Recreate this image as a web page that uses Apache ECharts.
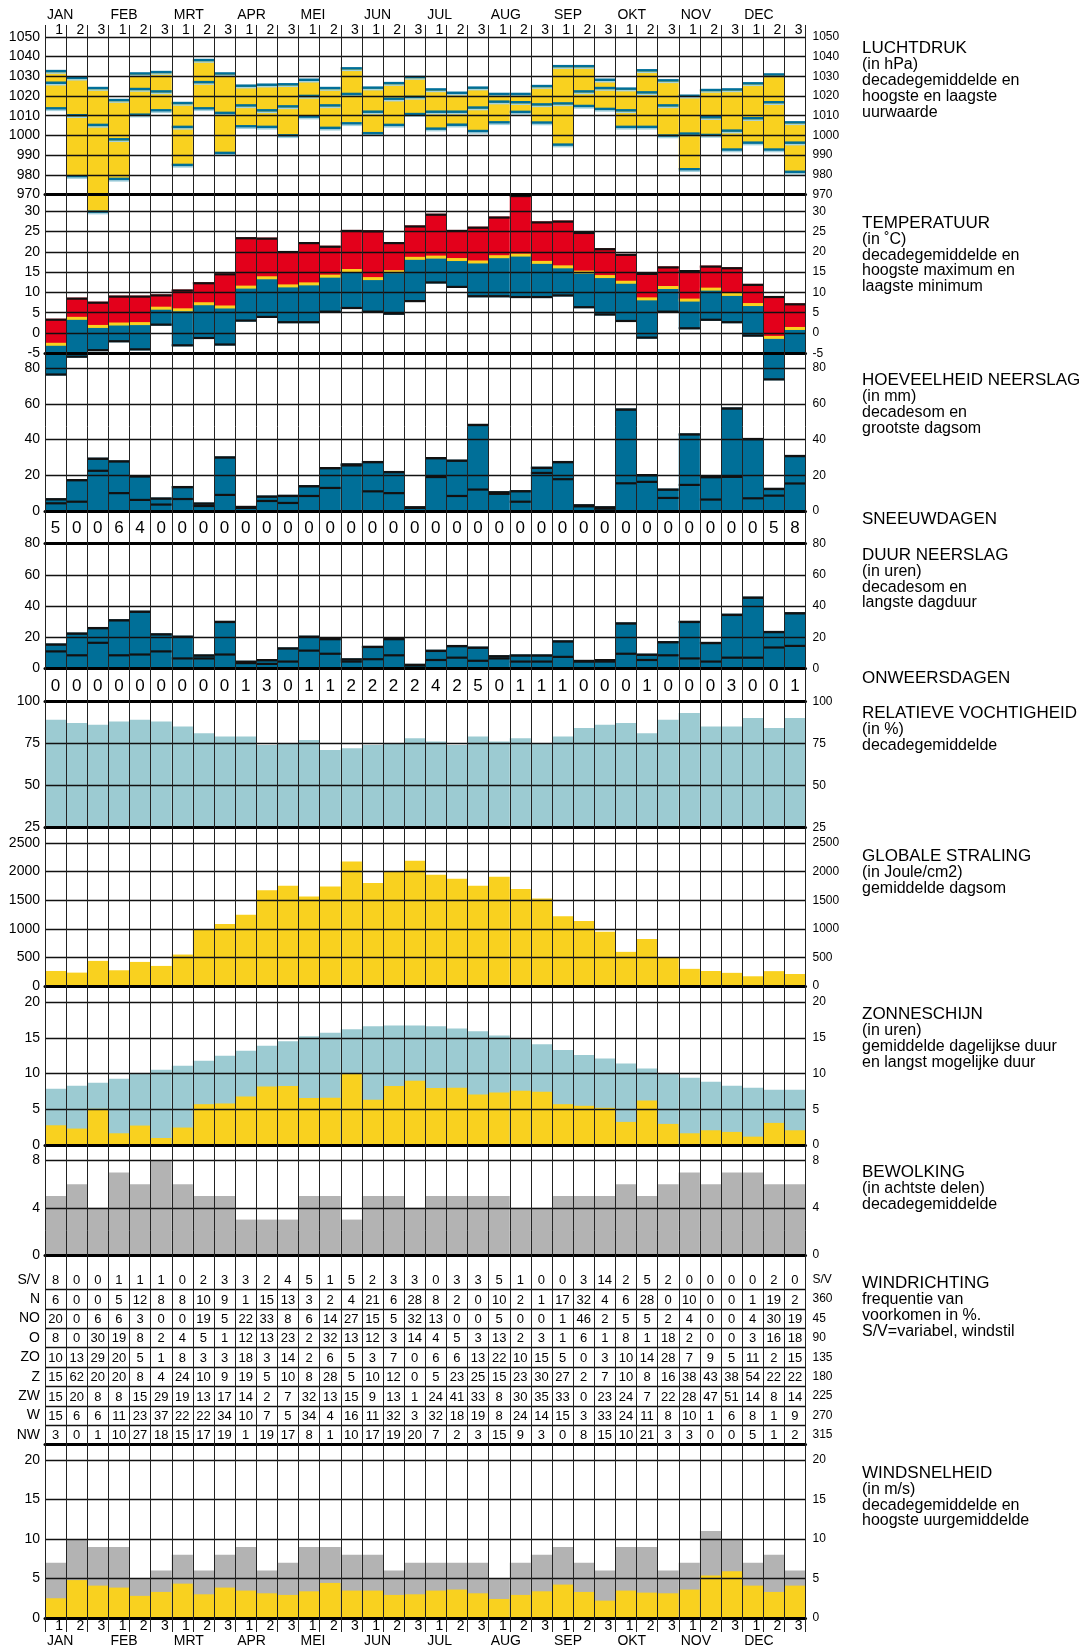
<!DOCTYPE html>
<html><head><meta charset="utf-8">
<script src="https://cdn.jsdelivr.net/npm/echarts@6.0.0/dist/echarts.min.js"></script>
<style>html,body{margin:0;padding:0;background:#fff}#c{width:1086px;height:1648px}</style>
</head><body><div id="c"></div><script>
const months = ['JAN','FEB','MRT','APR','MEI','JUN','JUL','AUG','SEP','OKT','NOV','DEC'];
const decades = ['1','2','3'];

const pressureTicks = [970,980,990,1000,1010,1020,1030,1040,1050];
const temperatureTicks = [-5,0,5,10,15,20,25,30];
const precipTicks = [0,20,40,60,80];
const durationTicks = [0,20,40,60,80];
const humidityTicks = [25,50,75,100];
const radiationTicks = [0,500,1000,1500,2000,2500];
const sunshineTicks = [0,5,10,15,20];
const cloudTicks = [0,4,8];
const windTicks = [0,5,10,15,20];

const pressMax = [1032.6,1029.2,1024.0,1017.9,1031.4,1032.1,1016.4,1038.2,1031.4,1025.2,1025.7,1025.9,1028.2,1024.0,1034.0,1024.2,1026.5,1029.6,1023.3,1021.6,1024.2,1021.0,1021.0,1025.0,1035.1,1035.1,1028.2,1023.7,1033.0,1027.9,1020.1,1023.0,1023.3,1026.4,1030.9,1006.6];
const pressMean = [1026.7,1010.2,1005.3,998.0,1023.5,1022.3,1004.3,1027.0,1011.4,1015.2,1012.7,1014.7,1020.0,1015.2,1021.0,1012.0,1018.6,1019.5,1012.0,1012.0,1014.1,1017.1,1016.8,1015.7,1016.2,1022.3,1024.0,1012.7,1021.8,1015.2,1000.9,1009.2,1002.4,1008.7,1016.8,996.3];
const pressMin = [1013.7,979.3,961.3,977.9,1010.5,1012.7,985.0,1013.7,991.1,1004.6,1004.3,1000.0,1009.5,1003.8,1006.1,1001.1,1005.3,1010.8,1003.4,1005.4,1002.2,1006.6,1011.9,1006.5,995.3,1014.9,1013.4,1004.3,1004.3,999.9,982.8,1000.2,992.8,996.3,992.8,981.5];

const tempMax = [3.5,8.7,7.7,9.2,9.2,9.5,10.7,12.5,14.7,23.6,23.5,20.2,22.4,21.5,25.4,25.3,22.4,26.5,29.4,25.4,26.2,28.7,34.0,27.5,27.7,24.9,20.9,19.5,14.8,16.4,15.5,16.6,16.2,12.1,9.1,7.3];
const tempMean = [-2.8,3.6,1.6,2.2,2.3,6.1,5.7,7.2,6.4,11.3,13.6,11.6,12.1,14.0,15.4,13.4,15.1,18.4,18.7,18.1,17.5,18.8,19.2,17.4,16.3,15.0,13.9,12.5,8.4,11.2,8.1,10.8,9.5,7.0,-1.1,1.1];
const tempMin = [-10.5,-6.1,-4.5,-2.3,-4.3,1.8,-3.3,-1.5,-3.1,2.8,3.7,2.4,2.4,5.0,5.9,5.0,4.5,7.6,12.2,11.1,8.8,8.8,8.6,8.6,9.0,6.1,4.3,2.7,-1.4,5.0,0.9,3.0,2.4,-0.9,-11.7,-5.4];

const precipSum = [7.1,17.8,29.8,28.3,19.9,7.5,13.9,4.7,30.5,2.8,8.6,9.0,14.4,24.5,26.6,27.9,22.3,2.6,30.1,28.7,48.7,11.0,11.6,24.7,27.9,3.7,2.6,57.3,20.6,12.5,43.4,19.5,57.9,40.8,12.9,31.3];
const precipMaxDay = [4.3,5.2,22.5,10.0,6.2,3.6,6.7,2.8,9.0,1.7,5.6,4.5,8.4,12.9,25.5,11.0,10.0,1.7,19.0,8.4,12.0,9.6,5.2,21.3,17.8,2.6,1.3,15.5,16.3,7.3,14.6,6.4,19.1,7.1,8.6,15.4];

const snowDays = [5,0,0,6,4,0,0,0,0,0,0,0,0,0,0,0,0,0,0,0,0,0,0,0,0,0,0,0,0,0,0,0,0,0,5,8];

const durationSum = [16,23,26.5,31.5,37,22.5,21,9,30.5,5,6,13.5,21,19.5,6.5,14.5,19.5,3,12,15,14,8.5,9,9,18,5.5,6,29.5,9.5,17.5,30.5,17,35,46,24,36];
const durationMaxDay = [11,8.5,16.5,8.5,9,11,6.5,6.5,9,3.5,3,4.5,11.5,9.5,4.5,6,8.5,2,5.5,7,5,6.5,4.5,4.5,7.5,4.5,4.5,9.5,5.5,8.5,6.5,4.5,7,7,13.5,14.5];

const thunderDays = [0,0,0,0,0,0,0,0,0,1,3,0,1,1,2,2,2,2,4,2,5,0,1,1,1,0,0,0,1,0,0,0,3,0,0,1];

const humidity = [89,87,86,88,89,88,85,81,79,79,74,75,77,71,72,74,75,78,76,74,79,76,78,75,79,84,86,87,81,89,93,85,85,90,84,90];

const radiation = [263,234,439,275,421,351,550,984,1083,1247,1675,1751,1563,1739,2178,1803,2002,2190,1944,1874,1751,1909,1698,1528,1218,1136,949,597,820,492,300,262,230,170,260,210];

const sunPossible = [7.87,8.29,8.71,9.27,9.98,10.54,11.1,11.8,12.5,13.2,13.9,14.5,15.2,15.7,16.2,16.6,16.7,16.7,16.6,16.3,15.9,15.3,14.8,14.1,13.3,12.6,12.1,11.4,10.7,9.98,9.41,8.85,8.29,8.0,7.73,7.73];
const sunActual = [2.76,2.3,5.06,1.64,2.72,0.98,2.44,5.71,5.81,6.79,8.2,8.24,6.56,6.6,9.93,6.32,8.24,8.99,7.96,8.0,7.07,7.35,7.59,7.45,5.71,5.48,5.2,3.23,6.23,2.95,1.64,2.06,1.83,1.17,3.09,2.06];

const cloud = [5,6,4,7,6,8,6,5,5,3,3,3,5,5,3,5,5,4,5,5,5,5,4,4,5,5,5,6,5,6,7,6,7,7,6,6];

const windDirLabels = ['S/V','N','NO','O','ZO','Z','ZW','W','NW'];
const windDirDegrees = ['S/V','360','45','90','135','180','225','270','315'];
const windSV = [8,0,0,1,1,1,0,2,3,3,2,4,5,1,5,2,3,3,0,3,3,5,1,0,0,3,14,2,5,2,0,0,0,0,2,0];
const windN  = [6,0,0,5,12,8,8,10,9,1,15,13,3,2,4,21,6,28,8,2,0,10,2,1,17,32,4,6,28,0,10,0,0,1,19,2];
const windNO = [20,0,6,6,3,0,0,19,5,22,33,8,6,14,27,15,5,32,13,0,0,5,0,0,1,46,2,5,5,2,4,0,0,4,30,19];
const windO  = [8,0,30,19,8,2,4,5,1,12,13,23,2,32,13,12,3,14,4,5,3,13,2,3,1,6,1,8,1,18,2,0,0,3,16,18];
const windZO = [10,13,29,20,5,1,8,3,3,18,3,14,2,6,5,3,7,0,6,6,13,22,10,15,5,0,3,10,14,28,7,9,5,11,2,15];
const windZ  = [15,62,20,20,8,4,24,10,9,19,5,10,8,28,5,10,12,0,5,23,25,15,23,30,27,2,7,10,8,16,38,43,38,54,22,22];
const windZW = [15,20,8,8,15,29,19,13,17,14,2,7,32,13,15,9,13,1,24,41,33,8,30,35,33,0,23,24,7,22,28,47,51,14,8,14];
const windW  = [15,6,6,11,23,37,22,22,34,10,7,5,34,4,16,11,32,3,32,18,19,8,24,14,15,3,33,24,11,8,10,1,6,8,1,9];
const windNW = [3,0,1,10,27,18,15,17,19,1,19,17,8,1,10,17,19,20,7,2,3,15,9,3,0,8,15,10,21,3,3,0,0,5,1,2];

const windMax = [7,10,9,9,5,6,8,6,8,9,6,7,9,9,8,8,6,7,7,7,7,5,7,8,9,7,6,9,9,6,7,11,10,7,8,6];
const windMean = [2.5,4.8,4.1,3.85,2.8,3.3,4.35,3.0,3.85,3.47,3.13,2.92,3.38,4.44,3.47,3.47,2.92,3.0,3.47,3.6,3.13,2.41,2.92,3.38,4.23,3.3,2.2,3.47,3.21,3.13,3.6,5.37,5.92,4.1,3.3,4.1];

// ---------- styling ----------
const YELLOW = '#f9d11f', RED = '#e3001b', BLUE = '#006f98', LIGHT = '#9ccbd2', GRAY = '#b3b3b3', HALO = '#a6d2dd';
const FONT = "'Liberation Sans', Arial, sans-serif";
const NARROW = "'Liberation Sans Narrow', 'Liberation Sans', Arial, sans-serif";
const X_LEFT = 45, X_WIDTH = 760.5;
const LEFT_LABEL = {fontFamily: NARROW, fontSize: 14, color: '#000', margin: 5};
const RIGHT_LABEL = {fontFamily: FONT, fontSize: 12, color: '#000', margin: 7};

const cats = [];
months.forEach(m => decades.forEach(d => cats.push(m + '-' + d)));
const boundaries = [];
for (let k = 0; k <= cats.length; k++) boundaries.push('b' + k);
const decadeAtBoundary = boundaries.map((b, k) => k === 0 ? '' : decades[(k - 1) % 3]);
const monthAtBoundary = boundaries.map((b, k) => (k < cats.length && k % 3 === 0) ? months[k / 3] : '');

const grids = [], xAxes = [], yAxes = [], series = [];
function addGrid(top, bottom) {
  grids.push({left: X_LEFT, width: X_WIDTH, top: top, height: bottom - top, containLabel: false, outerBoundsMode: 'none'});
  return grids.length - 1;
}
function bandRect(api, i, a, b, fill) {
  const p = api.coord([i, a]), q = api.coord([i, b]);
  const w = api.size([1, 0])[0];
  return {type: 'rect', shape: {x: p[0] - w / 2, y: Math.min(p[1], q[1]), width: w, height: Math.abs(q[1] - p[1])}, style: {fill: fill}};
}
function bandLine(api, i, v, fill, h, dy) {
  const p = api.coord([i, v]);
  const w = api.size([1, 0])[0];
  return {type: 'rect', shape: {x: p[0] - w / 2, y: p[1] - h / 2 + (dy || 0), width: w, height: h}, style: {fill: fill}};
}
function bottomX(g, width) {
  return xAxes.push({gridIndex: g, type: 'category', data: cats, position: 'bottom',
    axisLine: {show: true, onZero: false, lineStyle: {color: '#000', width: width}},
    axisTick: {show: false}, axisLabel: {show: false}, splitLine: {show: false}, z: 12}) - 1;
}
function valuePanel(top, bottom, min, max, interval, ticks, data, render) {
  const g = addGrid(top, bottom);
  const xi = bottomX(g, 3);
  const fmt = v => ticks.indexOf(Math.round(v * 1000) / 1000) >= 0 ? String(Math.round(v * 1000) / 1000) : '';
  const yi = yAxes.push({gridIndex: g, type: 'value', min: min, max: max, interval: interval, position: 'left',
    axisLine: {show: false}, axisTick: {show: false},
    splitLine: {show: true, lineStyle: {color: '#111', width: 1.3}},
    axisLabel: Object.assign({}, LEFT_LABEL, {formatter: fmt}), z: 11}) - 1;
  yAxes.push({gridIndex: g, type: 'value', min: min, max: max, interval: interval, position: 'right',
    axisLine: {show: false}, axisTick: {show: false}, splitLine: {show: false},
    axisLabel: Object.assign({}, RIGHT_LABEL, {formatter: fmt}), z: 11});
  series.push({type: 'custom', xAxisIndex: xi, yAxisIndex: yi, clip: false, z: 2, renderItem: render, data: data});
}
function textRow(top, bottom, values) {
  const g = addGrid(top, bottom);
  const xi = bottomX(g, 3);
  const yi = yAxes.push({gridIndex: g, type: 'value', min: 0, max: 1, show: false}) - 1;
  series.push({type: 'custom', xAxisIndex: xi, yAxisIndex: yi, z: 3,
    data: values.map((v, i) => [i, 0.5, v]),
    renderItem: (params, api) => {
      const p = api.coord([api.value(0), 0.5]);
      return {type: 'text', x: p[0], y: p[1] + 1, style: {text: String(api.value(2)), fill: '#000',
        font: '17px ' + NARROW, align: 'center', verticalAlign: 'middle'}};
    }});
}

// ---------- panels ----------
valuePanel(36.8, 194.5, 970, 1050, 10, pressureTicks,
  pressMin.map((v, i) => [i, v, pressMean[i], pressMax[i]]),
  (params, api) => {
    const i = api.value(0), lo = api.value(1), mid = api.value(2), hi = api.value(3);
    return {type: 'group', children: [
      bandRect(api, i, lo, hi, YELLOW),
      bandLine(api, i, hi, HALO, 1.5, 2), bandLine(api, i, hi, BLUE, 2.5),
      bandLine(api, i, mid, HALO, 1.5, 2), bandLine(api, i, mid, BLUE, 2.5),
      bandLine(api, i, lo, HALO, 1.5, 2), bandLine(api, i, lo, BLUE, 2.5)
    ]};
  });

valuePanel(194.5, 353.2, -5, 34.14, 5, temperatureTicks,
  tempMin.map((v, i) => [i, v, tempMean[i], tempMax[i]]),
  (params, api) => {
    const i = api.value(0), lo = api.value(1), mid = api.value(2), hi = api.value(3);
    return {type: 'group', children: [
      bandRect(api, i, mid, hi, RED),
      bandRect(api, i, lo, mid, BLUE),
      bandLine(api, i, mid, YELLOW, 3),
      bandLine(api, i, hi, '#111', 2.2, 1),
      bandLine(api, i, lo, '#111', 2.2, -1)
    ]};
  });

valuePanel(353.2, 511, 0, 88.3, 20, precipTicks,
  precipSum.map((v, i) => [i, v, precipMaxDay[i]]),
  (params, api) => {
    const i = api.value(0), s = api.value(1), m = api.value(2);
    return {type: 'group', children: [
      bandRect(api, i, 0, s, BLUE),
      bandLine(api, i, s, '#111', 2.4, 1),
      bandLine(api, i, m, '#111', 2.2)
    ]};
  });

textRow(511, 543.5, snowDays);

valuePanel(543.5, 668.6, 0, 80, 20, durationTicks,
  durationSum.map((v, i) => [i, v, durationMaxDay[i]]),
  (params, api) => {
    const i = api.value(0), s = api.value(1), m = api.value(2);
    return {type: 'group', children: [
      bandRect(api, i, 0, s, BLUE),
      bandLine(api, i, s, '#111', 2.4, 1),
      bandLine(api, i, m, '#111', 2.2)
    ]};
  });

textRow(668.6, 701.2, thunderDays);

valuePanel(701.2, 827.4, 25, 100, 25, humidityTicks,
  humidity.map((v, i) => [i, v]),
  (params, api) => bandRect(api, api.value(0), 25, api.value(1), LIGHT));

valuePanel(827.4, 986, 0, 2773, 500, radiationTicks,
  radiation.map((v, i) => [i, v]),
  (params, api) => bandRect(api, api.value(0), 0, api.value(1), YELLOW));

valuePanel(986, 1145, 0, 22.24, 5, sunshineTicks,
  sunPossible.map((v, i) => [i, v, sunActual[i]]),
  (params, api) => {
    const i = api.value(0);
    return {type: 'group', children: [
      bandRect(api, i, 0, api.value(1), LIGHT),
      bandRect(api, i, 0, api.value(2), YELLOW)
    ]};
  });

valuePanel(1145, 1255, 0, 9.32, 4, cloudTicks,
  cloud.map((v, i) => [i, v]),
  (params, api) => bandRect(api, api.value(0), 0, api.value(1), GRAY));

// wind direction table
(function () {
  const g = addGrid(1270, 1444.6);
  const xi = bottomX(g, 3);
  const yi = yAxes.push({gridIndex: g, type: 'category', data: windDirLabels, inverse: true, position: 'left',
    axisLine: {show: false}, axisTick: {show: false},
    splitLine: {show: true, interval: (idx) => idx > 0, lineStyle: {color: '#111', width: 1.3}},
    axisLabel: Object.assign({}, LEFT_LABEL, {interval: 0}), z: 11}) - 1;
  yAxes.push({gridIndex: g, type: 'category', data: windDirDegrees, inverse: true, position: 'right',
    axisLine: {show: false}, axisTick: {show: false}, splitLine: {show: false},
    axisLabel: Object.assign({}, RIGHT_LABEL, {interval: 0}), z: 11});
  const rows = [windSV, windN, windNO, windO, windZO, windZ, windZW, windW, windNW];
  const data = [];
  rows.forEach((arr, r) => arr.forEach((v, c) => data.push([c, r, v])));
  series.push({type: 'custom', xAxisIndex: xi, yAxisIndex: yi, z: 3, data: data,
    renderItem: (params, api) => {
      const p = api.coord([api.value(0), api.value(1)]);
      return {type: 'text', x: p[0], y: p[1] + 1, style: {text: String(api.value(2)), fill: '#000',
        font: '13px ' + FONT, align: 'center', verticalAlign: 'middle'}};
    }});
})();

valuePanel(1444.6, 1618, 0, 21.95, 5, windTicks,
  windMax.map((v, i) => [i, v, windMean[i]]),
  (params, api) => {
    const i = api.value(0);
    return {type: 'group', children: [
      bandRect(api, i, 0, api.value(1), GRAY),
      bandRect(api, i, 0, api.value(2), YELLOW)
    ]};
  });

// ---------- frame: vertical lines + decade labels ----------
(function () {
  const g = addGrid(25, 1632);
  const lab = {fontFamily: NARROW, fontSize: 14, color: '#000', interval: 0, inside: true,
    verticalAlign: 'middle', align: 'right', padding: [0, 3, 0, 0], formatter: (v, k) => decadeAtBoundary[k]};
  xAxes.push({gridIndex: g, type: 'category', boundaryGap: false, data: boundaries, position: 'top',
    axisLine: {show: false}, axisTick: {show: false},
    splitLine: {show: true, interval: 0, lineStyle: {color: '#222', width: 1}},
    axisLabel: Object.assign({}, lab, {margin: 5}), z: 13});
  xAxes.push({gridIndex: g, type: 'category', boundaryGap: false, data: boundaries, position: 'bottom',
    axisLine: {show: false}, axisTick: {show: false}, splitLine: {show: false},
    axisLabel: Object.assign({}, lab, {margin: 6}), z: 13});
  yAxes.push({gridIndex: g, type: 'value', show: false});
  const g2 = addGrid(25, 1632);
  const mlab = {fontFamily: NARROW, fontSize: 14, color: '#000', interval: 0, inside: false,
    verticalAlign: 'middle', align: 'left', padding: [0, 0, 0, 2], formatter: (v, k) => monthAtBoundary[k]};
  xAxes.push({gridIndex: g2, type: 'category', boundaryGap: false, data: boundaries, position: 'top',
    axisLine: {show: false}, axisTick: {show: false}, splitLine: {show: false},
    axisLabel: Object.assign({}, mlab, {margin: 10}), z: 13});
  xAxes.push({gridIndex: g2, type: 'category', boundaryGap: false, data: boundaries, position: 'bottom',
    axisLine: {show: false}, axisTick: {show: false}, splitLine: {show: false},
    axisLabel: Object.assign({}, mlab, {margin: 9}), z: 13});
  yAxes.push({gridIndex: g2, type: 'value', show: false});
})();

// ---------- right-hand titles ----------
const titleDefs = [
  ['LUCHTDRUK', ['(in hPa)', 'decadegemiddelde en', 'hoogste en laagste', 'uurwaarde'], 40],
  ['TEMPERATUUR', ['(in \u02DAC)', 'decadegemiddelde en', 'hoogste maximum en', 'laagste minimum'], 214.5],
  ['HOEVEELHEID NEERSLAG', ['(in mm)', 'decadesom en', 'grootste dagsom'], 372],
  ['SNEEUWDAGEN', [], 510.5],
  ['DUUR NEERSLAG', ['(in uren)', 'decadesom en', 'langste dagduur'], 546.5],
  ['ONWEERSDAGEN', [], 669.5],
  ['RELATIEVE VOCHTIGHEID', ['(in %)', 'decadegemiddelde'], 704.5],
  ['GLOBALE STRALING', ['(in Joule/cm2)', 'gemiddelde dagsom'], 847.5],
  ['ZONNESCHIJN', ['(in uren)', 'gemiddelde dagelijkse duur', 'en langst mogelijke duur'], 1006],
  ['BEWOLKING', ['(in achtste delen)', 'decadegemiddelde'], 1163.5],
  ['WINDRICHTING', ['frequentie van', 'voorkomen in %.', 'S/V=variabel, windstil'], 1275],
  ['WINDSNELHEID', ['(in m/s)', 'decadegemiddelde en', 'hoogste uurgemiddelde'], 1464.5]
];
const titles = titleDefs.map(t => ({
  text: t[0], subtext: t[1].join('\n'), left: 862, top: t[2], padding: 0, itemGap: 0,
  textStyle: {fontFamily: FONT, fontSize: 17, fontWeight: 'normal', color: '#000', lineHeight: 17},
  subtextStyle: {fontFamily: FONT, fontSize: 16, color: '#000', lineHeight: 15.8}
}));

const chart = echarts.init(document.getElementById('c'), null, {renderer: 'canvas'});
chart.setOption({
  animation: false,
  backgroundColor: '#fff',
  title: titles,
  grid: grids,
  xAxis: xAxes,
  yAxis: yAxes,
  series: series
});
</script></body></html>
